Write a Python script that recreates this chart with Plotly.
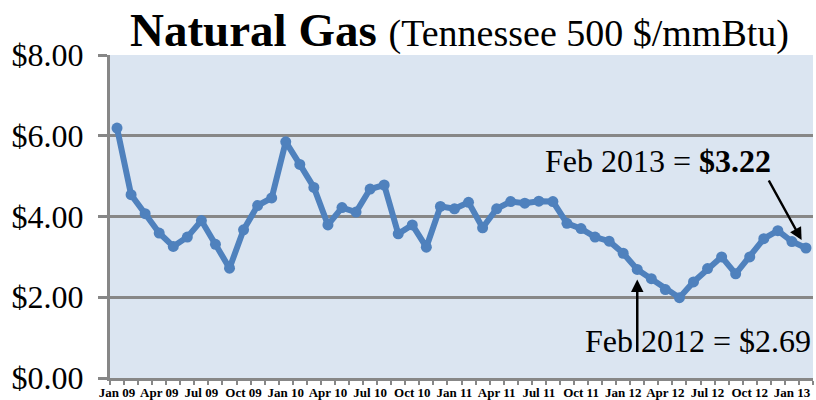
import plotly.graph_objects as go

months = ["Jan", "Feb", "Mar", "Apr", "May", "Jun", "Jul", "Aug", "Sep", "Oct", "Nov", "Dec"]
month_labels = [f"{m} {y:02d}" for y in range(9, 14) for m in months][:50]

prices = [
    6.19, 4.54, 4.07, 3.59, 3.26, 3.49, 3.90, 3.31, 2.72, 3.67, 4.27, 4.46,
    5.85, 5.29, 4.72, 3.79, 4.22, 4.11, 4.68, 4.78, 3.57, 3.79, 3.24, 4.25,
    4.19, 4.35, 3.72, 4.19, 4.37, 4.33, 4.38, 4.37, 3.83, 3.70, 3.49, 3.39,
    3.09, 2.69, 2.46, 2.19, 1.99, 2.38, 2.71, 3.00, 2.58, 3.00, 3.45, 3.65,
    3.38, 3.22,
]

y_ticks = [0, 2, 4, 6, 8]
y_tick_text = ["$0.00", "$2.00", "$4.00", "$6.00", "$8.00"]

x_idx = list(range(len(prices)))
label_idx = x_idx[::3]
label_text = [month_labels[i] for i in label_idx]

LINE = "#4f81bd"
GRID = "#878787"
SERIF = "Liberation Serif, Times New Roman, serif"

fig = go.Figure()
fig.add_trace(go.Scatter(
    x=x_idx, y=prices, mode="lines+markers",
    line=dict(color=LINE, width=6),
    marker=dict(color=LINE, size=11),
    hoverinfo="skip", showlegend=False,
))

fig.update_layout(
    width=816, height=400,
    margin=dict(l=110, r=3, t=55, b=22),
    paper_bgcolor="white",
    plot_bgcolor="#dbe5f1",
    font=dict(family=SERIF, color="black"),
    xaxis=dict(
        range=[-0.5, 49.5], tickmode="array", tickvals=label_idx, ticktext=label_text,
        tickfont=dict(family=SERIF, size=13, color="black", weight="bold"),
        showgrid=False, zeroline=False, automargin=False,
        showline=True, linecolor=GRID, linewidth=3,
        ticks="", ticklabelstandoff=0,
        minor=dict(ticks="outside", tick0=0.5, dtick=1, ticklen=4, tickcolor=GRID, tickwidth=2, showgrid=False),
        fixedrange=True,
    ),
    yaxis=dict(
        range=[0, 8], tickmode="array", tickvals=y_ticks, ticktext=y_tick_text,
        tickfont=dict(family=SERIF, size=32, color="black"),
        showgrid=True, gridcolor=GRID, gridwidth=3, zeroline=False, automargin=False,
        showline=True, linecolor=GRID, linewidth=3,
        ticks="outside", ticklen=9, tickcolor=GRID, tickwidth=3,
        ticklabelstandoff=8,
        fixedrange=True,
    ),
)

fig.add_annotation(
    xref="paper", yref="paper", x=0.497, y=1.0, yshift=-3, xanchor="center", yanchor="bottom",
    text="<b>Natural Gas</b> <span style='font-size:38px'>(Tennessee 500 $/mmBtu)</span>",
    showarrow=False, font=dict(family=SERIF, size=47, color="black"),
)

feb13 = len(prices) - 1
fig.add_annotation(
    x=feb13, y=prices[feb13], xref="x", yref="y",
    text="", showarrow=True, arrowhead=2, arrowsize=1, arrowwidth=2.5, arrowcolor="black",
    standoff=9, ax=-38, ay=-69,
)
fig.add_annotation(
    x=feb13, y=prices[feb13], xref="x", yref="y",
    text=f"Feb 2013 = <b>${prices[feb13]:.2f}</b>",
    showarrow=False, xshift=-148, yshift=87,
    font=dict(family=SERIF, size=32, color="black"),
)

feb12 = 37
fig.add_annotation(
    x=feb12, y=prices[feb12], xref="x", yref="y",
    text="", showarrow=True, arrowhead=2, arrowsize=1, arrowwidth=2.5, arrowcolor="black",
    standoff=10, ax=0, ay=84,
)
fig.add_annotation(
    x=feb12, y=prices[feb12], xref="x", yref="y",
    text=f"Feb {2012} = ${prices[feb12]:.2f}",
    showarrow=False, xshift=61, yshift=-72,
    font=dict(family=SERIF, size=32, color="black"),
)

fig.write_html(
    "out.html",
    config={"displayModeBar": False},
    post_script="document.body.style.margin='0';document.body.style.padding='0';",
)
